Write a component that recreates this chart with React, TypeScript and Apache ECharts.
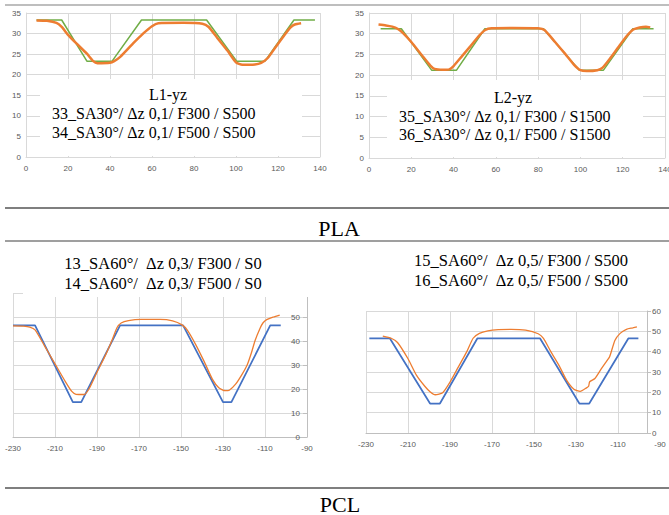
import React, { useEffect, useRef } from "react";
import * as echarts from "echarts";

// PLA L1-yz (x, height)
const l1Design = [[5, 33.3], [17, 33.3], [29, 23.3], [41, 23.3], [55, 33.3], [86, 33.3], [100.3, 23.3], [113.8, 23.3], [127.6, 33.3], [137.6, 33.3]];
const l1Measured = [[5, 33.2], [10, 33.1], [14.5, 32.6], [17, 31.6], [20, 29.7], [24, 27.6], [29, 25.1], [32, 23.3], [34, 22.8], [40, 22.9], [42, 23.3], [45, 24.4], [51, 27.6], [56, 30.1], [60, 31.8], [63, 32.5], [75, 32.6], [84, 32.4], [87, 31.6], [91, 29], [96, 25.8], [100, 23], [103, 22.4], [109, 22.5], [112, 22.9], [115, 24], [119, 26.8], [123, 29.6], [126, 31.5], [128, 32.2], [131, 32.5]];
// PLA L2-yz
const l2Design = [[5.5, 31.2], [15.3, 31.2], [29.6, 21.2], [41.4, 21.2], [54.8, 31.2], [82.5, 31.2], [99.5, 21.2], [110.9, 21.2], [124.8, 31.2], [134.6, 31.2]];
const l2Measured = [[4.5, 32.2], [8, 32], [11, 31.7], [13.5, 31.2], [16, 30.2], [20, 28], [25, 24.8], [29, 22.3], [31, 21.5], [35, 21.3], [38, 21.4], [40, 22.2], [44, 24.6], [48, 27], [52, 29.5], [55, 30.9], [58, 31.3], [68, 31.4], [80, 31.3], [83, 30.9], [88, 28], [93, 25], [97, 22.5], [100, 21.2], [103, 21], [108, 21.2], [110.5, 21.8], [114, 24], [118, 26.8], [122, 29.5], [125, 31], [128, 31.5], [131, 31.7], [133, 31.5]];
// PCL 13/14
const p13Design = [[-230, 46.5], [-219.5, 46.5], [-201.5, 14.5], [-197.5, 14.5], [-179, 46.5], [-149, 46.5], [-130, 14.5], [-126, 14.5], [-107.5, 46.5], [-102.5, 46.5]];
const p14Measured = [[-230, 46.3], [-225, 46.2], [-222, 45.8], [-219.5, 44.6], [-215, 38], [-210, 30.5], [-205, 23], [-202, 19], [-200, 17.8], [-196, 17.7], [-193.5, 20.5], [-190, 27], [-186, 34], [-183, 40], [-180.5, 45.5], [-178.5, 47.5], [-175, 48.5], [-169, 49], [-160, 49], [-154, 48.4], [-149.5, 46.7], [-147, 44.5], [-143, 38.5], [-139, 31.5], [-135, 24], [-132, 20.5], [-129, 19.3], [-127, 19.5], [-124, 22], [-121, 26], [-118.5, 30], [-116.5, 35], [-114.8, 40], [-112.5, 45], [-111, 47.5], [-109, 49], [-106, 50], [-103, 50.8]];
// PCL 15/16
const p15Design = [[-228.4, 46.5], [-218.6, 46.5], [-199.5, 14.5], [-194.8, 14.5], [-177, 46.5], [-147.1, 46.5], [-128.4, 14.5], [-123.7, 14.5], [-105.1, 46.5], [-100.3, 46.5]];
const p16Measured = [[-222, 47.7], [-218, 46.6], [-215, 44.5], [-210, 36.5], [-206, 28.5], [-202, 23], [-199.5, 20.3], [-197, 18.8], [-193.5, 19.8], [-190, 25], [-186, 32.5], [-182, 40], [-179, 46.6], [-176, 49], [-172, 50.2], [-167, 50.8], [-161, 51], [-154, 50.6], [-148, 48.8], [-145.5, 46.5], [-142, 40], [-138, 33], [-134.5, 26], [-131, 21.5], [-128, 20.5], [-125, 22.2], [-124, 23], [-123.5, 25.2], [-121, 26.8], [-118, 31.5], [-116, 34.5], [-114, 37.5], [-111.5, 45.5], [-109, 49], [-106, 51], [-103, 51.7], [-101, 52.2]];

const topLabels = ["L1-yz", "33_SA30°/ Δz 0,1/ F300 / S500", "34_SA30°/ Δz 0,1/ F500 / S500"];
const topRightLabels = ["L2-yz", "35_SA30°/ Δz 0,1/ F300 / S1500", "36_SA30°/ Δz 0,1/ F500 / S1500"];
const bottomLeftTitle = ["13_SA60°/  Δz 0,3/ F300 / S0", "14_SA60°/  Δz 0,3/ F500 / S0"];
const bottomRightTitle = ["15_SA60°/  Δz 0,5/ F300 / S500", "16_SA60°/  Δz 0,5/ F500 / S500"];
const sectionLabels = ["PLA", "PCL"];

const GREEN = "#70AD47";
const ORANGE = "#ED7D31";
const BLUE = "#4472C4";
const GRID = "#d9d9d9";
const AXIS = "#bfbfbf";
const LABEL = { color: "#595959", fontSize: 8, fontFamily: "Liberation Sans" };
const SERIF = "Liberation Serif";

function txt(x: number, y: number, text: string, size: number, align = "left") {
  return {
    type: "text",
    x,
    y,
    z: 60,
    style: {
      text,
      fill: "#000",
      fontSize: size,
      fontFamily: SERIF,
      textAlign: align,
      align,
      textVerticalAlign: "middle",
      verticalAlign: "middle",
    },
  };
}
function hline(y: number, w: number) {
  return { type: "line", z: 60, shape: { x1: 5, y1: y, x2: 669, y2: y }, style: { stroke: "#7f7f7f", lineWidth: w } };
}
function box(x: number, y: number, w: number, h: number) {
  return { type: "rect", z: 50, shape: { x, y, width: w, height: h }, style: { fill: "#fff" } };
}

export default function App() {
  const ref = useRef<HTMLDivElement>(null);
  useEffect(() => {
    if (!ref.current) return;
    const chart = echarts.init(ref.current, undefined, { renderer: "svg" });
    const topX = (i: number) => ({
      type: "value", gridIndex: i, min: 0, max: 140, interval: 20,
      axisLine: { show: true, lineStyle: { color: GRID } }, axisTick: { show: false },
      splitLine: { show: true, lineStyle: { color: GRID } },
      axisLabel: { ...LABEL, margin: 7 },
    });
    const topY = (i: number) => ({
      type: "value", gridIndex: i, min: 0, max: 35, interval: 5,
      axisLine: { show: true, lineStyle: { color: GRID } }, axisTick: { show: false },
      splitLine: { show: true, lineStyle: { color: GRID } },
      axisLabel: { ...LABEL, margin: 5 },
    });
    const line = (data: number[][], xi: number, color: string, width: number, smooth: number | boolean = false) => ({
      type: "line", data, xAxisIndex: xi, yAxisIndex: xi, showSymbol: false, symbol: "none", smooth,
      lineStyle: { color, width }, itemStyle: { color },
    });
    const option: any = {
      animation: false,
      backgroundColor: "#fff",
      grid: [
        { left: 26, top: 13, width: 294, height: 144, outerBoundsMode: "none" },
        { left: 369, top: 13, width: 296, height: 145, outerBoundsMode: "none" },
        { left: 13, top: 293, width: 294, height: 144, outerBoundsMode: "none" },
        { left: 366, top: 311, width: 281, height: 122, outerBoundsMode: "none" },
        { left: 366, top: 311, width: 294, height: 122, outerBoundsMode: "none" },
      ],
      xAxis: [
        topX(0),
        topX(1),
        {
          type: "value", gridIndex: 2, min: -230, max: -90, interval: 20,
          axisLine: { show: true, onZero: false, lineStyle: { color: AXIS } }, axisTick: { show: false },
          splitLine: { show: true, lineStyle: { color: GRID } },
          axisLabel: { ...LABEL, margin: 7 },
        },
        {
          type: "value", gridIndex: 3, min: -230, max: -96.2, interval: 20,
          axisLine: { show: true, onZero: false, lineStyle: { color: AXIS } }, axisTick: { show: false },
          splitLine: { show: true, lineStyle: { color: GRID } },
          axisLabel: { show: false },
        },
        {
          type: "value", gridIndex: 4, min: -230, max: -90, interval: 20,
          axisLine: { show: false }, axisTick: { show: false }, splitLine: { show: false },
          axisLabel: { ...LABEL, margin: 7 },
        },
      ],
      yAxis: [
        topY(0),
        topY(1),
        {
          type: "value", gridIndex: 2, position: "left", offset: -294, min: 0, max: 60, interval: 10,
          axisLine: { show: true, onZero: false, lineStyle: { color: AXIS } },
          axisTick: { show: true, length: 4, lineStyle: { color: AXIS } },
          splitLine: { show: true, lineStyle: { color: GRID } },
          axisLabel: { ...LABEL, margin: 7 },
        },
        {
          type: "value", gridIndex: 3, position: "right", min: 0, max: 60, interval: 10,
          axisLine: { show: true, onZero: false, lineStyle: { color: AXIS } },
          axisTick: { show: true, length: 4, lineStyle: { color: AXIS } },
          splitLine: { show: true, lineStyle: { color: GRID } },
          axisLabel: { ...LABEL, margin: 5 },
        },
        { type: "value", gridIndex: 4, min: 0, max: 60, show: false },
      ],
      series: [
        line(l1Design, 0, GREEN, 1.5),
        line(l1Measured, 0, ORANGE, 2.5, 0.2),
        line(l2Design, 1, GREEN, 1.5),
        line(l2Measured, 1, ORANGE, 2.5, 0.2),
        line(p13Design, 2, BLUE, 1.75),
        line(p14Measured, 2, ORANGE, 1.3, 0.2),
        line(p15Design, 3, BLUE, 1.75),
        line(p16Measured, 3, ORANGE, 1.3, 0.2),
      ],
      graphic: [
        box(40, 79, 262, 77),
        box(387, 80, 256, 77),
        box(23, 248, 286, 49),
        txt(168, 94, topLabels[0], 16, "center"),
        txt(52, 113, topLabels[1], 16),
        txt(52, 132, topLabels[2], 16),
        txt(513, 97, topRightLabels[0], 16, "center"),
        txt(399, 116, topRightLabels[1], 16),
        txt(399, 134, topRightLabels[2], 16),
        txt(163, 263, bottomLeftTitle[0], 16.5, "center"),
        txt(163, 283, bottomLeftTitle[1], 16.5, "center"),
        txt(521, 260, bottomRightTitle[0], 16.5, "center"),
        txt(521, 280, bottomRightTitle[1], 16.5, "center"),
        txt(339, 228, sectionLabels[0], 22, "center"),
        txt(340, 504, sectionLabels[1], 22, "center"),
        hline(5, 1.2),
        hline(208, 2),
        hline(241, 1.5),
        hline(488, 2),
      ],
    };
    chart.setOption(option);
    return () => chart.dispose();
  }, []);
  return <div ref={ref} style={{ position: "fixed", left: 0, top: 0, width: 669, height: 515, background: "#fff" }} />;
}
